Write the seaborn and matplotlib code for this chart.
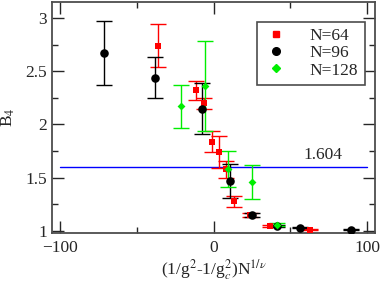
import matplotlib
matplotlib.use("Agg")
import matplotlib.pyplot as plt
import seaborn as sns
import pandas as pd
from matplotlib.lines import Line2D
from matplotlib.ticker import MultipleLocator

# data
x64 = [-36.4, -11.7, -6.5, -1.3, 3.4, 8.4, 13.0, 23.4, 37.0, 63.0]
y64 = [2.74, 2.32, 2.20, 1.84, 1.74, 1.58, 1.28, 1.15, 1.05, 1.01]
e64 = [0.20, 0.09, 0.05, 0.10, 0.15, 0.08, 0.05, 0.02, 0.01, 0.005]

x96 = [-71.4, -38.3, -7.8, 10.4, 25.3, 41.0, 56.5, 89.6]
y96 = [2.67, 2.44, 2.15, 1.47, 1.15, 1.05, 1.03, 1.01]
e96 = [0.30, 0.19, 0.24, 0.16, 0.02, 0.01, 0.005, 0.005]

x128 = [-21.4, -5.8, 9.7, 25.3, 41.0]
y128 = [2.17, 2.36, 1.58, 1.46, 1.06]
e128 = [0.20, 0.42, 0.17, 0.16, 0.015]

b4_cross = 1.604

sns.set_style("ticks")
plt.rcParams["font.family"] = ["Liberation Serif", "DejaVu Serif"]
plt.rcParams["mathtext.fontset"] = "stix"
fs = 12.5

frames = []
for n, xs, ys, es in [("N=64", x64, y64, e64), ("N=96", x96, y96, e96), ("N=128", x128, y128, e128)]:
    frames.append(pd.DataFrame({"x": xs, "B4": ys, "err": es, "N": n}))
df = pd.concat(frames, ignore_index=True)

colors = {"N=64": "#ff0000", "N=96": "#000000", "N=128": "#00ee00"}
markers = {"N=64": "s", "N=96": "o", "N=128": "D"}
sizes = {"N=64": 22, "N=96": 38, "N=128": 16}

fig = plt.figure(figsize=(3.82, 2.85), dpi=100)
ax = fig.add_axes([0.136, 0.182, 0.846, 0.811])

ax.plot([-100, 100], [b4_cross, b4_cross], color="#0000ff", lw=1.0)
ax.text(71, 1.64, "1.604", fontsize=fs, ha="center", va="bottom")

for n in ["N=64", "N=96", "N=128"]:
    sub = df[df["N"] == n]
    ax.errorbar(sub["x"], sub["B4"], yerr=sub["err"], fmt="none",
                ecolor=colors[n], elinewidth=1.0, capsize=5.5, capthick=1.0)
    sns.scatterplot(x=sub["x"], y=sub["B4"], color=colors[n], marker=markers[n],
                    s=sizes[n], edgecolor=colors[n], linewidth=0, ax=ax, zorder=3)

ax.set_xlim(-105, 105)
ax.set_ylim(0.98, 3.15)
ax.xaxis.set_major_locator(MultipleLocator(100))
ax.xaxis.set_minor_locator(MultipleLocator(50))
ax.yaxis.set_major_locator(MultipleLocator(0.5))
ax.yaxis.set_minor_locator(MultipleLocator(0.25))
ax.tick_params(which="both", direction="in", top=True, right=True, labelsize=fs)
ax.tick_params(which="major", length=8.5, width=1.0)
ax.tick_params(which="minor", length=4.5, width=1.0)
ax.tick_params(axis="x", pad=5)
ax.set_yticks([1, 1.5, 2, 2.5, 3])
ax.set_yticklabels(["1", "1.5", "2", "2.5", "3"])
for s in ax.spines.values():
    s.set_linewidth(1.3)
    s.set_color("0.3")

ax.set_xlabel(r"(1/g$^2$-1/g$_c^2$)N$^{1/\nu}$", fontsize=fs, labelpad=1)
ax.set_ylabel(r"B$_4$", fontsize=fs, labelpad=6)

handles = [Line2D([], [], ls="none", marker=markers[n], color=colors[n],
                  markersize=4 if n != "N=96" else 5.5) for n in ["N=64", "N=96", "N=128"]]
leg = ax.legend(handles, ["N=64", "N=96", "N=128"], loc="upper right",
                bbox_to_anchor=(0.994, 0.95), fontsize=fs, frameon=True,
                fancybox=False, edgecolor="0.3", framealpha=1,
                handletextpad=1.2, labelspacing=0.05, borderpad=0.35,
                handlelength=1.5)
leg.get_frame().set_linewidth(1.2)

fig.savefig("out.png", dpi=100)
